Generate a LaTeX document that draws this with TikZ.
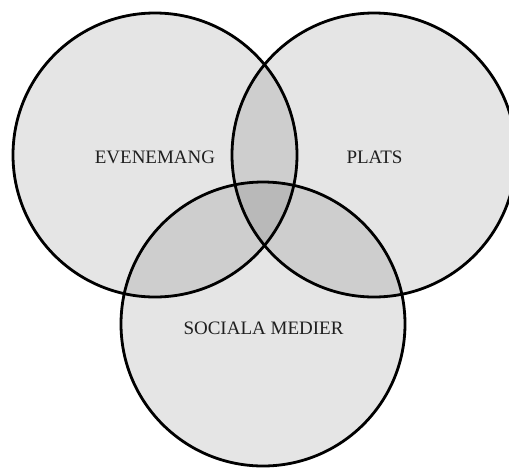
\documentclass[tikz,border=0pt]{standalone}
\usepackage{fontspec}
\setmainfont{Liberation Serif}
\begin{document}
\begin{tikzpicture}[x=1pt,y=-1pt,
  venn/.style={circle, draw=black, line width=2.8pt, fill=black, fill opacity=0.1, draw opacity=1, minimum size=284pt, inner sep=0pt},
  lbl/.style={font=\fontsize{19}{21}\selectfont, text=black!88, inner sep=0pt}]
\useasboundingbox (0,0) rectangle (509,467);
\node[venn] (ev) at (155,155) {};
\node[venn] (pl) at (374,155) {};
\node[venn] (so) at (263,324) {};
\node[lbl] (tev) at (155,157) {EVENEMANG};
\node[lbl] (tpl) at (374.5,157) {PLATS};
\node[lbl] (tso) at (263.5,328) {SOCIALA MEDIER};
\end{tikzpicture}
\end{document}
